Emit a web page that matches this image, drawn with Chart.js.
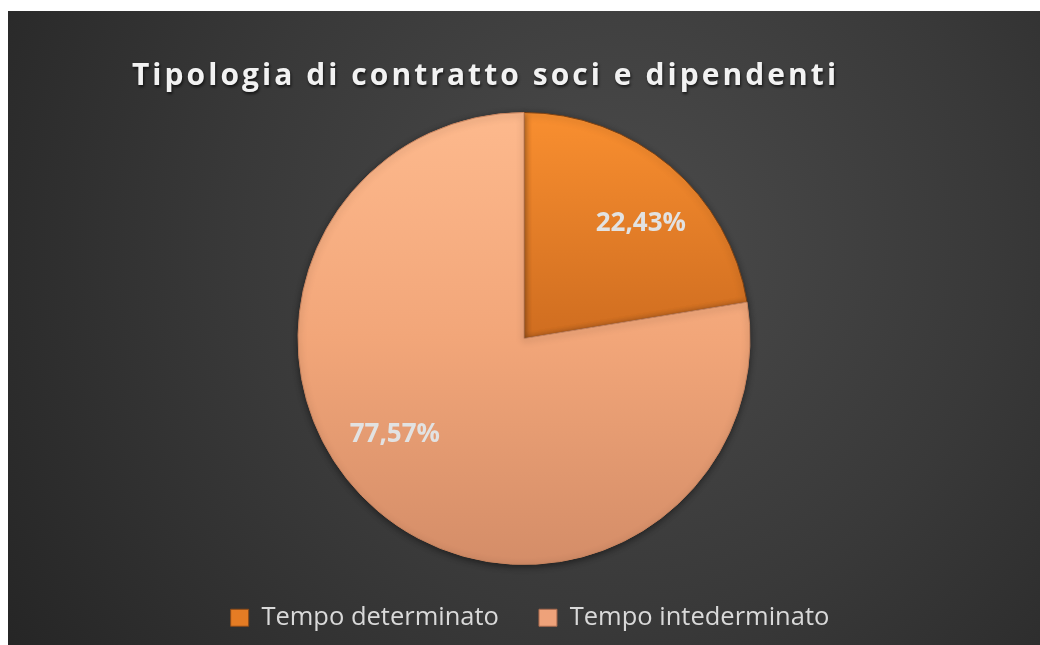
<!DOCTYPE html>
<html>
<head>
<meta charset="utf-8">
<script src="https://cdn.jsdelivr.net/npm/chart.js@4/dist/chart.umd.min.js"></script>
<style>
  html, body { margin: 0; padding: 0; background: #ffffff; }
  #panel { position: absolute; left: 8px; top: 11px; width: 1032px; height: 634px; }
</style>
</head>
<body>
<div id="panel"><canvas id="chartCanvas"></canvas></div>
<script>
var chartTitle = 'Tipologia di contratto soci e dipendenti';
var categories = ['Tempo determinato', 'Tempo intederminato'];
var shares = [22.43, 77.57];

// colours: [top, middle, bottom] of each slice gradient
var sliceGradients = [
  ['#f98f30', '#cf6d20', '#b85c18'],
  ['#fdb98d', '#f2a679', '#d48d68']
];
var sliceBorders = ['#7d4214', '#c98560'];
var legendColors = ['#e57c24', '#eea27a'];
var legendBorders = ['#8a4a18', '#a86a4e'];

function formatPercent(v) {
  return v.toFixed(2).replace('.', ',') + '%';
}

function sliceFill(context) {
  var chart = context.chart;
  var area = chart.chartArea;
  var i = context.dataIndex;
  var stops = sliceGradients[i];
  if (!area) return stops[1];
  var cy = (area.top + area.bottom) / 2;
  var r = Math.min(area.width, area.height) / 2;
  var g = chart.ctx.createLinearGradient(0, cy - r, 0, cy + r);
  g.addColorStop(0, stops[0]);
  g.addColorStop(0.5, stops[1]);
  g.addColorStop(1, stops[2]);
  return g;
}

var panelPlugin = {
  id: 'panelPlugin',
  afterLayout: function(chart) {
    // nudge the legend a little to the right, like the original
    if (chart.legend) {
      chart.legend.left += 6;
      chart.legend.right += 6;
    }
  },
  beforeDraw: function(chart) {
    var ctx = chart.ctx;
    var w = chart.width, h = chart.height;
    ctx.save();
    var bg = ctx.createRadialGradient(610, 230, 0, 610, 230, 760);
    bg.addColorStop(0, '#4b4b4b');
    bg.addColorStop(0.5, '#393939');
    bg.addColorStop(1, '#242424');
    ctx.fillStyle = bg;
    ctx.fillRect(0, 0, w, h);

    // title with letter spacing
    ctx.font = 'bold 30px "Open Sans"';
    ctx.letterSpacing = '0px';
    var plain = ctx.measureText(chartTitle).width;
    var spacing = (704 - plain) / (chartTitle.length - 1);
    ctx.letterSpacing = spacing.toFixed(2) + 'px';
    var tw = ctx.measureText(chartTitle).width - spacing;
    ctx.fillStyle = '#f2f2f2';
    ctx.textBaseline = 'alphabetic';
    ctx.textAlign = 'left';
    ctx.shadowColor = 'rgba(0,0,0,0.65)';
    ctx.shadowBlur = 3;
    ctx.shadowOffsetX = 1;
    ctx.shadowOffsetY = 2;
    ctx.fillText(chartTitle, 476 - tw / 2, 74);
    ctx.letterSpacing = '0px';
    ctx.restore();
  },
  beforeDatasetsDraw: function(chart) {
    var ctx = chart.ctx;
    ctx.save();
    ctx.shadowColor = 'rgba(0,0,0,0.45)';
    ctx.shadowBlur = 7;
    ctx.shadowOffsetY = 2;
  },
  afterDatasetsDraw: function(chart) {
    var ctx = chart.ctx;
    ctx.restore();
    var meta = chart.getDatasetMeta(0);
    ctx.save();
    ctx.font = 'bold 26px "Open Sans"';
    ctx.fillStyle = '#e2e2e2';
    ctx.textAlign = 'center';
    ctx.textBaseline = 'middle';
    meta.data.forEach(function(arc, i) {
      var p = arc.getProps(['x', 'y', 'startAngle', 'endAngle', 'outerRadius'], true);
      var a = p.startAngle + (p.endAngle - p.startAngle) * 0.55;
      var r = p.outerRadius * 0.72;
      ctx.fillText(formatPercent(shares[i]), p.x + Math.cos(a) * r + 3, p.y + Math.sin(a) * r + 1);
    });
    ctx.restore();
  }
};

var ctx = document.getElementById('chartCanvas').getContext('2d');
var chart = new Chart(ctx, {
  type: 'pie',
  data: {
    labels: categories,
    datasets: [{
      data: shares,
      backgroundColor: sliceFill,
      borderColor: sliceBorders,
      borderWidth: 1,
      hoverBorderWidth: 1,
      hoverOffset: 0
    }]
  },
  options: {
    responsive: true,
    maintainAspectRatio: false,
    animation: false,
    events: [],
    layout: { padding: { top: 101, bottom: 4.5, left: 0, right: 0 } },
    plugins: {
      title: { display: false },
      tooltip: { enabled: false },
      legend: {
        position: 'bottom',
        labels: {
          boxWidth: 18,
          boxHeight: 17,
          padding: 40,
          color: '#d9d9d9',
          font: { family: '"Open Sans"', size: 25.5 },
          generateLabels: function(chart) {
            return categories.map(function(label, i) {
              return {
                text: label,
                fillStyle: legendColors[i],
                strokeStyle: legendBorders[i],
                lineWidth: 1,
                fontColor: '#d9d9d9',
                hidden: false,
                index: i
              };
            });
          }
        }
      }
    }
  },
  plugins: [panelPlugin]
});
</script>
</body>
</html>
